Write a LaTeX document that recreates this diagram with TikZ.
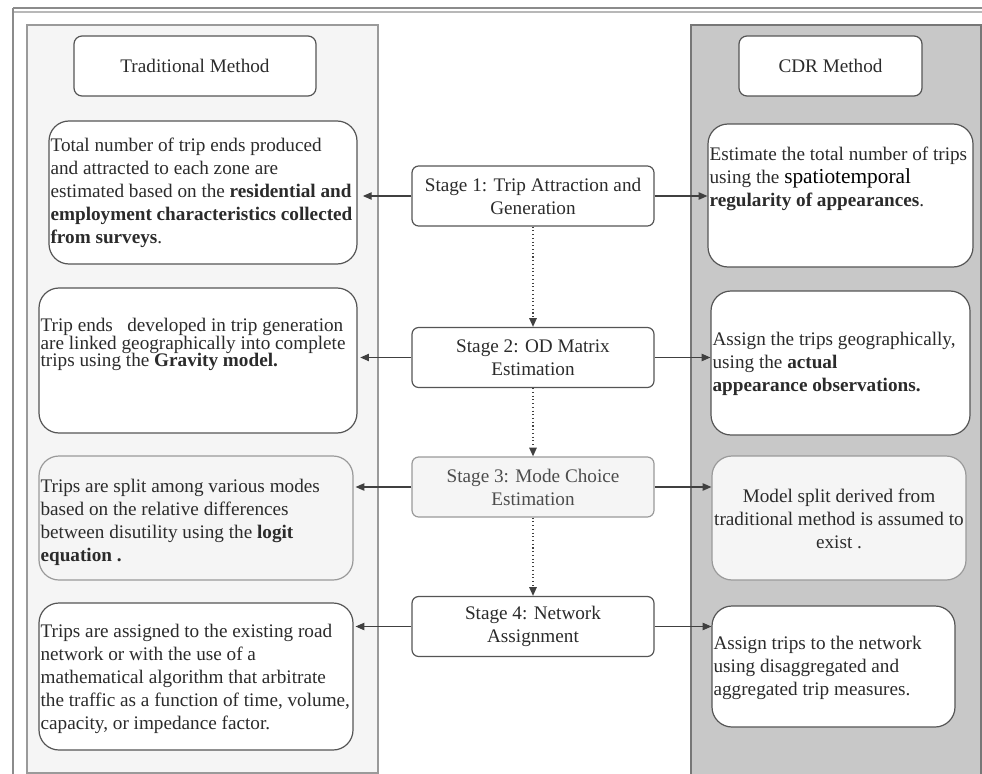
\documentclass[tikz,border=0pt]{standalone}
\usepackage{fontspec}
\setmainfont{Liberation Serif}
\usepackage{xcolor}
\usetikzlibrary{arrows.meta,positioning}
\definecolor{lightpanel}{HTML}{F5F5F5}
\definecolor{darkpanel}{HTML}{C8C8C8}
\definecolor{edgegray}{HTML}{555555}
\definecolor{softgray}{HTML}{9A9A9A}
\definecolor{inkgray}{HTML}{2B2B2B}

\begin{document}
\begin{tikzpicture}[x=0.75pt,y=0.75pt,yscale=-1,xscale=1,
  every node/.style={font=\fontsize{14.4}{17.3}\selectfont, text=inkgray},
  panel/.style={draw=softgray, line width=1pt},
  headbox/.style={draw=edgegray, fill=white, line width=0.9pt, rounded corners=6pt, minimum width=#1, minimum height=45pt},
  descbox/.style={draw=edgegray, fill=white, line width=0.9pt, rounded corners=15pt},
  softbox/.style={draw=softgray, fill=lightpanel, line width=0.9pt, rounded corners=15pt},
  stagebox/.style={draw=edgegray, fill=white, line width=0.9pt, rounded corners=5pt, minimum width=181.5pt, minimum height=45pt, align=center},
  txt/.style={inner sep=1pt, align=left, anchor=west},
  tip/.style={-{Triangle[length=6.5pt,width=5.5pt]}, draw=black!75, line width=0.8pt},
  flow/.style={tip, dotted, line width=1.1pt}]
\useasboundingbox (0,0) rectangle (982,774);

% outer frame
\draw [softgray!90!black, line width=1.2pt] (13,8) -- (982,8);
\draw [softgray!70, line width=1pt] (13,12) -- (982,12);
\draw [softgray!90!black, line width=1.2pt] (13,8) -- (13,774);

% panels
\draw [panel, fill=lightpanel] (27,25) rectangle (378,773);
\draw [panel, draw=edgegray!80, fill=darkpanel] (691,25) rectangle (981,775);

% headers
\node [headbox=181.5pt] (trad) at (195,66) {Traditional Method};
\node [headbox=137.25pt] (cdr) at (830.5,66) {CDR Method};

% traditional column
\node [descbox, minimum width=231pt, minimum height=107.25pt] (l1) at (203,192.5) {};
\node [descbox, minimum width=238.5pt, minimum height=108.75pt] (l2) at (198,360.5) {};
\node [softbox, minimum width=235.5pt, minimum height=93pt] (l3) at (196,518) {};
\node [descbox, minimum width=235.5pt, minimum height=110.25pt] (l4) at (196,676.5) {};

\node [txt] (l1t) at (49,193) {Total number of trip ends produced\\and attracted to each zone are\\estimated based on the \textbf{residential and}\\\textbf{employment characteristics collected}\\\textbf{from surveys}.};
\node [txt, font=\fontsize{14.4}{13.2}\selectfont] (l2t) at (39,344.5) {Trip ends\ \ \ developed in trip generation\\are linked geographically into complete\\trips using the \textbf{Gravity model.}};
\node [txt] (l3t) at (39,522) {Trips are split among various modes\\based on the relative differences\\between disutility using the \textbf{logit}\\\textbf{equation .}};
\node [txt] (l4t) at (39,679) {Trips are assigned to the existing road\\network or with the use of a\\mathematical algorithm that arbitrate\\the traffic as a function of time, volume,\\capacity, or impedance factor.};

% cdr column
\node [descbox, minimum width=198.75pt, minimum height=107.25pt] (r1) at (840.5,195.5) {};
\node [descbox, minimum width=194.25pt, minimum height=108pt] (r2) at (840.5,363) {};
\node [softbox, minimum width=190.5pt, minimum height=93pt] (r3) at (839,518) {};
\node [descbox, minimum width=182.25pt, minimum height=90.75pt] (r4) at (833.5,666.5) {};

\node [txt] (r1t) at (708,178.5) {Estimate the total number of trips\\using the {\color{black}\fontsize{16}{17.3}\selectfont spatiotemporal}\\\textbf{regularity of appearances}.};
\node [txt] (r2t) at (711,364) {Assign the trips geographically,\\using the \textbf{actual}\\\textbf{appearance observations.}};
\node [inner sep=1pt, align=center] (r3t) at (839,519) {Model split derived from\\traditional method is assumed to\\exist .};
\node [txt] (r4t) at (712,668) {Assign trips to the network\\using disaggregated and\\aggregated trip measures.};

% stages
\node [stagebox] (s1) at (533,196) {Stage 1: Trip Attraction and\\Generation};
\node [stagebox] (s2) at (533,357.5) {Stage 2: OD Matrix\\Estimation};
\node [stagebox, draw=softgray, fill=lightpanel, text=black!70] (s3) at (533,487) {Stage 3: Mode Choice\\Estimation};
\node [stagebox] (s4) at (533,626.5) {Stage 4: Network\\Assignment};

% connectors
\draw [flow] (s1) -- (s2);
\draw [flow] (s2) -- (s3);
\draw [flow] (s3) -- (s4);
\draw [tip] (s1.west) -- ([xshift=4pt]s1.west -| l1.east);
\draw [tip] (s1.east) -- (s1.east -| r1.west);
\draw [tip] (s2.west) -- ([xshift=2pt]s2.west -| l2.east);
\draw [tip] (s2.east) -- (s2.east -| r2.west);
\draw [tip] (s3.west) -- ([xshift=1.5pt]s3.west -| l3.east);
\draw [tip] (s3.east) -- (s3.east -| r3.west);
\draw [tip] (s4.west) -- ([xshift=1.5pt]s4.west -| l4.east);
\draw [tip] (s4.east) -- (s4.east -| r4.west);

\end{tikzpicture}
\end{document}
